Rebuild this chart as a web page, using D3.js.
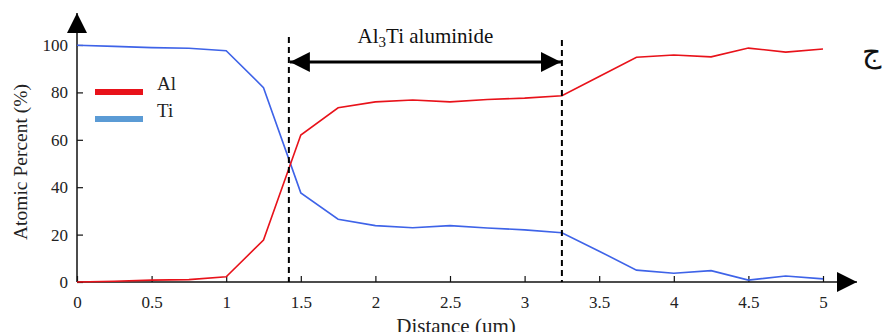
<!DOCTYPE html>
<html>
<head>
<meta charset="utf-8">
<script src="https://cdn.jsdelivr.net/npm/d3@7"></script>
<style>
  body { margin: 0; background: #fff; }
  text { font-family: "Liberation Serif", "DejaVu Serif", serif; fill: #222; }
</style>
</head>
<body>
<svg id="chart" width="882" height="332"></svg>
<script>
// distance steps (um)
var distance = [0, 0.25, 0.5, 0.75, 1, 1.25, 1.5, 1.75, 2, 2.25, 2.5, 2.75, 3, 3.25, 3.5, 3.75, 4, 4.25, 4.5, 4.75, 5];
// atomic percent
var alValues = [0, 0.3, 0.8, 1, 2.2, 17.7, 62, 73.5, 76, 76.8, 76, 77, 77.6, 78.6, 86.7, 94.8, 95.8, 95, 98.7, 97, 98.3];
var tiValues = [99.9, 99.4, 98.9, 98.6, 97.6, 82, 37.6, 26.5, 23.8, 22.9, 23.8, 22.8, 22, 20.8, 13, 5, 3.7, 4.8, 0.8, 2.5, 1.3];
var xTicks = [0, 0.5, 1, 1.5, 2, 2.5, 3, 3.5, 4, 4.5, 5];
var yTicks = [0, 20, 40, 60, 80, 100];
var zoneBounds = [1.42, 3.25];
var legendItems = [
  {name: "Al", color: "#e8121a"},
  {name: "Ti", color: "#5b9bd5"}
];

var svg = d3.select("#chart");

var x = d3.scaleLinear().domain([0, 5]).range([77, 823]);
var y = d3.scaleLinear().domain([0, 100]).range([282, 45]);

// arrowhead markers
var defs = svg.append("defs");
defs.append("marker")
    .attr("id", "head")
    .attr("viewBox", "0 0 20 20")
    .attr("refX", 20).attr("refY", 10)
    .attr("markerWidth", 20).attr("markerHeight", 20)
    .attr("markerUnits", "userSpaceOnUse")
    .attr("orient", "auto-start-reverse")
    .append("path").attr("d", "M0,0 L20,10 L0,20 Z").attr("fill", "#000");

// axes lines with arrows
svg.append("line")
    .attr("x1", x(0)).attr("x2", 857)
    .attr("y1", y(0)).attr("y2", y(0))
    .attr("stroke", "#111").attr("stroke-width", 1.5)
    .attr("marker-end", "url(#head)");
svg.append("line")
    .attr("x1", x(0)).attr("x2", x(0))
    .attr("y1", y(0)).attr("y2", 13)
    .attr("stroke", "#111").attr("stroke-width", 1.5)
    .attr("marker-end", "url(#head)");

// ticks (inward)
var xAxis = svg.append("g").attr("transform", "translate(0," + y(0) + ")")
    .call(d3.axisBottom(x).tickValues(xTicks).tickSize(-6).tickPadding(14)
        .tickFormat(function(d) { return d; }));
xAxis.select(".domain").remove();
xAxis.selectAll("line").attr("stroke", "#111").attr("stroke-width", 1.2);
xAxis.selectAll("text").style("font-size", "17px").style("font-family", "Liberation Serif").style("fill", "#222");

var yAxis = svg.append("g").attr("transform", "translate(" + x(0) + ",0)")
    .call(d3.axisLeft(y).tickValues(yTicks).tickSize(-6).tickPadding(9));
yAxis.select(".domain").remove();
yAxis.selectAll("line").attr("stroke", "#111").attr("stroke-width", 1.2);
yAxis.selectAll("text").style("font-size", "17px").style("font-family", "Liberation Serif").style("fill", "#222");

// axis titles
svg.append("text")
    .attr("transform", "translate(27,162) rotate(-90)")
    .attr("text-anchor", "middle")
    .style("font-size", "19.5px")
    .text("Atomic Percent (%)");
svg.append("text")
    .attr("x", 456).attr("y", 333)
    .attr("text-anchor", "middle")
    .style("font-size", "21px")
    .text("Distance (um)");

// series
var line = d3.line().x(function(d) { return x(d[0]); }).y(function(d) { return y(d[1]); });
svg.append("path")
    .datum(d3.zip(distance, tiValues))
    .attr("d", line).attr("fill", "none")
    .attr("stroke", "#3e63e8").attr("stroke-width", 1.6);
svg.append("path")
    .datum(d3.zip(distance, alValues))
    .attr("d", line).attr("fill", "none")
    .attr("stroke", "#e8121a").attr("stroke-width", 1.6);

// dashed boundaries
svg.selectAll(".bound").data(zoneBounds).enter().append("line")
    .attr("class", "bound")
    .attr("x1", function(d) { return x(d); }).attr("x2", function(d) { return x(d); })
    .attr("y1", function(d, i) { return i === 0 ? 37 : 40; }).attr("y2", y(0))
    .attr("stroke", "#000").attr("stroke-width", 2)
    .attr("stroke-dasharray", "6,4");

// double arrow
svg.append("line")
    .attr("x1", x(zoneBounds[0]) + 1).attr("x2", x(zoneBounds[1]) - 1)
    .attr("y1", 62).attr("y2", 62)
    .attr("stroke", "#000").attr("stroke-width", 3)
    .attr("marker-start", "url(#head)").attr("marker-end", "url(#head)");

var lbl = svg.append("text")
    .attr("x", (x(zoneBounds[0]) + x(zoneBounds[1])) / 2)
    .attr("y", 43)
    .attr("text-anchor", "middle")
    .style("font-size", "21px")
    .style("fill", "#111");
lbl.append("tspan").text("Al");
lbl.append("tspan").style("font-size", "15px").attr("dy", 4).text("3");
lbl.append("tspan").attr("dy", -4).text("Ti aluminide");

// legend
var leg = svg.selectAll(".leg").data(legendItems).enter().append("g")
    .attr("class", "leg")
    .attr("transform", function(d, i) { return "translate(95," + (92 + i * 27) + ")"; });
leg.append("line")
    .attr("x1", 0).attr("x2", 48).attr("y1", 0).attr("y2", 0)
    .attr("stroke", function(d) { return d.color; }).attr("stroke-width", 6);
leg.append("text")
    .attr("x", 62).attr("y", -2)
    .style("font-size", "19px")
    .text(function(d) { return d.name; });

// stray glyph at the right edge
svg.append("text")
    .attr("x", 862).attr("y", 62)
    .style("font-family", "DejaVu Sans")
    .style("font-size", "30px")
    .style("fill", "#111")
    .text("ج");
</script>
</body>
</html>
